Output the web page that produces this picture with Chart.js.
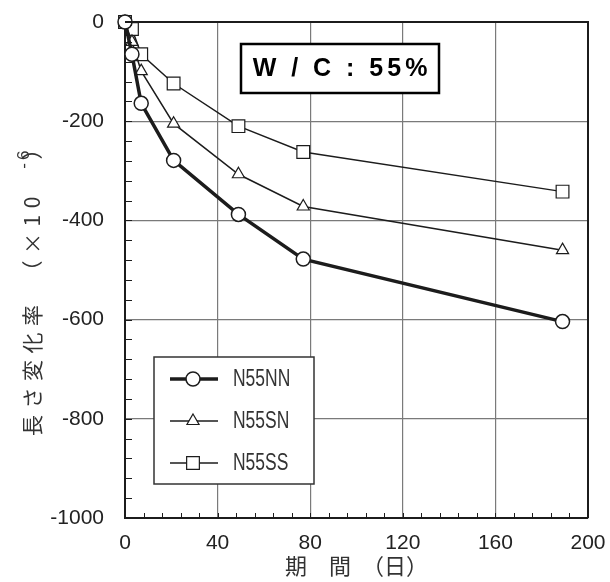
<!DOCTYPE html>
<html>
<head>
<meta charset="utf-8">
<script src="https://cdn.jsdelivr.net/npm/chart.js@4.4.1/dist/chart.umd.min.js"></script>
<style>
  body { margin: 0; background: #fff; }
  #wrap { width: 610px; height: 582px; }
</style>
</head>
<body>
<div id="wrap"><canvas id="myChart" width="610" height="582"></canvas></div>
<script>
// data
const days = [0, 3, 7, 21, 49, 77, 189];
const nnValues = [0, -65, -164, -279, -388, -478, -604];
const snValues = [0, -40, -99, -205, -307, -372, -460];
const ssValues = [0, -14, -65, -124, -210, -262, -342];
const seriesNames = ['N55NN', 'N55SN', 'N55SS'];
const xTicks = [0, 40, 80, 120, 160, 200];
const yTicks = [0, -200, -400, -600, -800, -1000];

const ink = '#1c1c1c';
const tickFont = '"Liberation Sans", Arial, sans-serif';
const jpFont = '"Noto Sans CJK JP", "Noto Sans", sans-serif';

function pts(vals) {
  return days.map((d, i) => ({ x: d, y: vals[i] }));
}

function marker(ctx, style, r, x, y, bw) {
  ctx.save();
  ctx.lineWidth = bw;
  ctx.strokeStyle = ink;
  ctx.fillStyle = '#fff';
  ctx.beginPath();
  if (style == 'circle') {
    ctx.arc(x, y, r, 0, Math.PI * 2);
  } else if (style == 'triangle') {
    for (let k = 0; k < 3; k++) {
      const a = -Math.PI / 2 + k * 2 * Math.PI / 3;
      const px = x + Math.cos(a) * r, py = y + Math.sin(a) * r;
      if (k == 0) ctx.moveTo(px, py); else ctx.lineTo(px, py);
    }
    ctx.closePath();
  } else {
    const s = r * Math.SQRT1_2;
    ctx.rect(x - s, y - s, 2 * s, 2 * s);
  }
  ctx.fill();
  ctx.stroke();
  ctx.restore();
}

// frame, minor ticks, boxes and titles
const decor = {
  id: 'decor',
  afterDraw(chart) {
    const ctx = chart.ctx;
    const a = chart.chartArea;
    const xs = chart.scales.x, ys = chart.scales.y;

    // minor ticks on the inside
    ctx.save();
    ctx.strokeStyle = ink;
    ctx.lineWidth = 1;
    for (let v = 0; v >= -1000; v -= 40) {
      const py = Math.round(ys.getPixelForValue(v)) + 0.5;
      ctx.beginPath(); ctx.moveTo(a.left, py); ctx.lineTo(a.left + 7, py); ctx.stroke();
    }
    for (let d = 0; d <= 200; d += 8) {
      const px = Math.round(xs.getPixelForValue(d)) + 0.5;
      ctx.beginPath(); ctx.moveTo(px, a.bottom); ctx.lineTo(px, a.bottom - 5); ctx.stroke();
    }
    // top and right side of the frame
    ctx.lineWidth = 2;
    ctx.beginPath();
    ctx.moveTo(a.left, a.top); ctx.lineTo(a.right, a.top); ctx.lineTo(a.right, a.bottom);
    ctx.stroke();
    ctx.restore();

    // W/C box
    ctx.save();
    ctx.fillStyle = '#fff';
    ctx.fillRect(241, 44, 198, 49);
    ctx.strokeStyle = '#000';
    ctx.lineWidth = 2.5;
    ctx.strokeRect(241, 44, 198, 49);
    ctx.fillStyle = '#000';
    ctx.font = 'bold 25px "Liberation Sans", Arial, sans-serif';
    ctx.letterSpacing = '4px';
    ctx.textAlign = 'center';
    ctx.textBaseline = 'middle';
    ctx.fillText('W / C : 55%', 342, 69);
    ctx.restore();

    // legend
    ctx.save();
    ctx.fillStyle = '#fff';
    ctx.fillRect(154, 357, 160, 127);
    ctx.strokeStyle = '#333';
    ctx.lineWidth = 1.5;
    ctx.strokeRect(154, 357, 160, 127);
    const rows = [379, 421, 463];
    chart.data.datasets.forEach((ds, i) => {
      const y = rows[i];
      ctx.strokeStyle = ink;
      ctx.lineWidth = ds.borderWidth;
      ctx.beginPath(); ctx.moveTo(170, y); ctx.lineTo(218, y); ctx.stroke();
      marker(ctx, ds.pointStyle, ds.pointRadius, 193, y, ds.pointBorderWidth);
      // condensed label
      ctx.save();
      ctx.translate(233, y + 1);
      ctx.scale(0.76, 1);
      ctx.fillStyle = '#333';
      ctx.font = '23px ' + tickFont;
      ctx.textAlign = 'left';
      ctx.textBaseline = 'middle';
      ctx.fillText(ds.label, 0, 0);
      ctx.restore();
    });
    ctx.restore();

    // x axis title
    ctx.save();
    ctx.fillStyle = '#333';
    ctx.font = '22px ' + jpFont;
    ctx.textAlign = 'center';
    ctx.textBaseline = 'middle';
    ctx.fillText('期　間　（日）', (a.left + a.right) / 2, 566);
    ctx.restore();

    // y axis title, rotated, with raised exponent
    ctx.save();
    ctx.translate(32, 285);
    ctx.rotate(-Math.PI / 2);
    ctx.fillStyle = '#333';
    ctx.textBaseline = 'middle';
    ctx.textAlign = 'left';
    const big = () => { ctx.font = '21px ' + jpFont; ctx.letterSpacing = '6.5px'; };
    const small = () => { ctx.font = '17px ' + tickFont; ctx.letterSpacing = '3px'; };
    const p1 = '長さ変化率　（×10　';
    const p3 = '）';
    big();
    const w1 = ctx.measureText(p1).width;
    const w3 = ctx.measureText(p3).width;
    small();
    const w2 = ctx.measureText('-6').width;
    let x0 = -(w1 + w2 + w3) / 2 + 10;
    big();
    ctx.fillText(p1, x0, 0);
    small();
    ctx.fillText('-6', x0 + w1 - 6, -8);
    big();
    ctx.fillText(p3, x0 + w1 + w2 - 18, 0);
    ctx.restore();
  }
};

const ctx = document.getElementById('myChart').getContext('2d');

const lenChart = new Chart(ctx, {
  type: 'line',
  data: {
    datasets: [
      {
        label: seriesNames[0],
        data: pts(nnValues),
        borderColor: ink,
        borderWidth: 3.5,
        pointStyle: 'circle',
        pointRadius: 7,
        pointBorderWidth: 1.5,
        pointBackgroundColor: '#fff',
        pointBorderColor: ink,
        tension: 0,
        clip: false
      },
      {
        label: seriesNames[1],
        data: pts(snValues),
        borderColor: ink,
        borderWidth: 1.5,
        pointStyle: 'triangle',
        pointRadius: 7,
        pointBorderWidth: 1.2,
        pointBackgroundColor: '#fff',
        pointBorderColor: ink,
        tension: 0,
        clip: false
      },
      {
        label: seriesNames[2],
        data: pts(ssValues),
        borderColor: ink,
        borderWidth: 1.5,
        pointStyle: 'rect',
        pointRadius: 9,
        pointBorderWidth: 1.2,
        pointBackgroundColor: '#fff',
        pointBorderColor: ink,
        tension: 0,
        clip: false
      }
    ]
  },
  options: {
    responsive: false,
    animation: false,
    layout: { padding: { left: 0, right: 22, top: 22, bottom: 0 } },
    plugins: {
      legend: { display: false },
      tooltip: { enabled: false }
    },
    scales: {
      x: {
        type: 'linear',
        min: xTicks[0],
        max: xTicks[xTicks.length - 1],
        afterFit: s => { s.height = 64; s.paddingLeft = 0; s.paddingRight = 0; },
        afterBuildTicks: s => { s.ticks = xTicks.map(v => ({ value: v })); },
        ticks: {
          color: '#222',
          font: { family: tickFont, size: 21 },
          padding: 13,
          maxRotation: 0,
          callback: v => String(v)
        },
        grid: { color: '#7a7a7a', lineWidth: 1.2, drawTicks: false },
        border: { color: ink, width: 2 }
      },
      y: {
        min: yTicks[yTicks.length - 1],
        max: yTicks[0],
        afterFit: s => { s.width = 125; s.paddingTop = 0; s.paddingBottom = 0; },
        afterBuildTicks: s => { s.ticks = yTicks.map(v => ({ value: v })); },
        ticks: {
          color: '#222',
          font: { family: tickFont, size: 21 },
          padding: 21,
          callback: v => String(v)
        },
        grid: { color: '#7a7a7a', lineWidth: 1.2, drawTicks: false },
        border: { color: ink, width: 2 }
      }
    }
  },
  plugins: [decor]
});
</script>
</body>
</html>
